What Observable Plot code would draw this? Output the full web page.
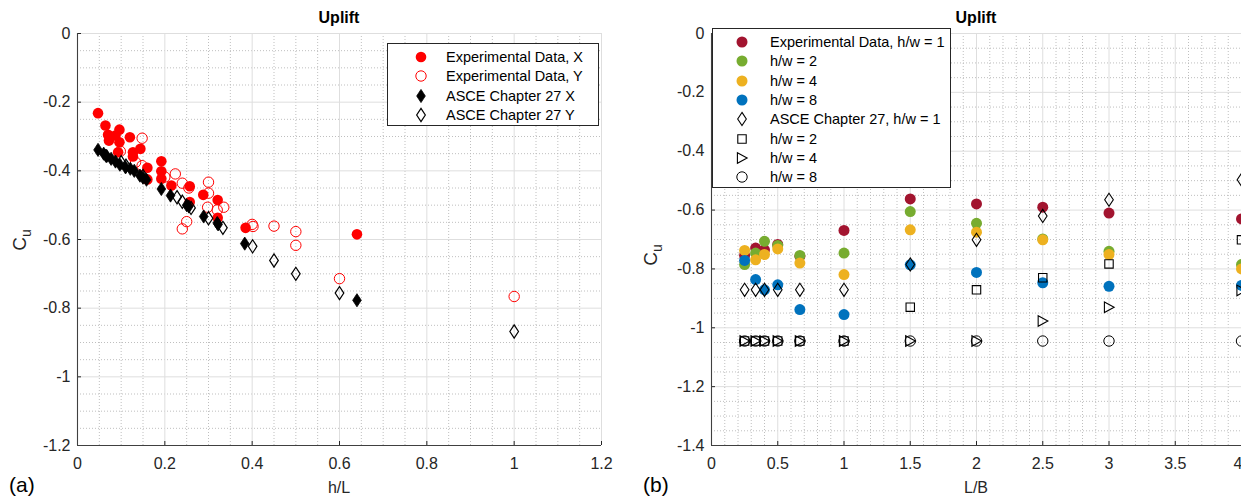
<!DOCTYPE html>
<html><head><meta charset="utf-8">
<script src="https://cdn.jsdelivr.net/npm/d3@7"></script>
<script src="https://cdn.jsdelivr.net/npm/@observablehq/plot@0.6"></script>
<style>
body{margin:0;background:#fff;font-family:"Liberation Sans",Arial,sans-serif;}
#wrap{position:relative;width:1241px;height:498px;overflow:hidden;background:#fff;}
.panel{position:absolute;top:0;}
.legend{position:absolute;background:#fff;border:1px solid #262626;box-sizing:border-box;font-size:14.5px;color:#000;}
.legend .lab{position:absolute;white-space:nowrap;transform:translateY(-50%);line-height:1;}
.legend svg{position:absolute;overflow:visible;}
</style></head><body><div id="wrap"></div>
<script>
// ---------- Panel (a): Cu vs h/L ----------
const expX_hL = [0.047,0.064,0.070,0.072,0.087,0.096,0.096,0.093,0.120,0.127,0.127,0.144,0.160,0.160,0.192,0.192,0.192,0.215,0.257,0.257,0.288,0.321,0.321,0.385,0.640];
const expX_Cu = [-0.232,-0.268,-0.295,-0.312,-0.297,-0.280,-0.317,-0.346,-0.302,-0.346,-0.358,-0.336,-0.391,-0.425,-0.372,-0.401,-0.423,-0.443,-0.445,-0.491,-0.470,-0.485,-0.537,-0.566,-0.585];
const expY_hL = [0.098,0.133,0.148,0.148,0.200,0.224,0.240,0.255,0.300,0.300,0.298,0.320,0.335,0.250,0.240,0.400,0.402,0.450,0.500,0.500,0.600,1.000];
const expY_Cu = [-0.343,-0.375,-0.305,-0.385,-0.418,-0.409,-0.436,-0.450,-0.433,-0.465,-0.506,-0.514,-0.506,-0.548,-0.569,-0.556,-0.562,-0.561,-0.577,-0.617,-0.714,-0.766];
const asceX_hL = [0.047,0.060,0.065,0.067,0.077,0.087,0.097,0.110,0.121,0.130,0.143,0.150,0.158,0.192,0.213,0.250,0.255,0.289,0.320,0.322,0.383,0.640];
const asceX_Cu = [-0.339,-0.350,-0.356,-0.357,-0.365,-0.373,-0.382,-0.390,-0.394,-0.400,-0.414,-0.420,-0.426,-0.453,-0.472,-0.500,-0.504,-0.533,-0.552,-0.556,-0.612,-0.777];
const asceY_hL = [0.100,0.111,0.150,0.228,0.240,0.260,0.300,0.333,0.401,0.450,0.500,0.600,1.000];
const asceY_Cu = [-0.375,-0.385,-0.415,-0.477,-0.490,-0.508,-0.538,-0.566,-0.620,-0.661,-0.700,-0.756,-0.868];
const legendA = ["Experimental Data, X","Experimental Data, Y","ASCE Chapter 27 X","ASCE Chapter 27 Y"];
const ticksA_x = [0,0.2,0.4,0.6,0.8,1,1.2];
const ticksA_y = [0,-0.2,-0.4,-0.6,-0.8,-1,-1.2];

// ---------- Panel (b): Cu vs L/B ----------
const LB = [0.25,0.333,0.4,0.5,0.667,1,1.5,2,2.5,3,4];
const exp_hw1 = [-0.754,-0.729,-0.735,-0.717,-0.757,-0.669,-0.562,-0.579,-0.590,-0.610,-0.630];
const exp_hw2 = [-0.785,-0.746,-0.706,-0.720,-0.754,-0.746,-0.605,-0.645,-0.698,-0.740,-0.785];
const exp_hw4 = [-0.737,-0.769,-0.751,-0.732,-0.780,-0.819,-0.667,-0.675,-0.701,-0.751,-0.800];
const exp_hw8 = [-0.771,-0.836,-0.871,-0.854,-0.938,-0.955,-0.786,-0.812,-0.847,-0.859,-0.856];
const asce_hw1 = [-0.871,-0.871,-0.871,-0.871,-0.871,-0.871,-0.785,-0.701,-0.620,-0.565,-0.497];
const asce_hw2 = [-1.045,-1.045,-1.045,-1.045,-1.045,-1.045,-0.930,-0.871,-0.830,-0.783,-0.701];
const asce_hw4 = [-1.045,-1.045,-1.045,-1.045,-1.045,-1.045,-1.045,-1.045,-0.977,-0.930,-0.873];
const asce_hw8 = [-1.045,-1.045,-1.045,-1.045,-1.045,-1.045,-1.045,-1.045,-1.045,-1.045,-1.045];
const legendB = ["Experimental Data, h/w = 1","h/w = 2","h/w = 4","h/w = 8","ASCE Chapter 27, h/w = 1","h/w = 2","h/w = 4","h/w = 8"];
const ticksB_x = [0,0.5,1,1.5,2,2.5,3,3.5,4];
const ticksB_y = [0,-0.2,-0.4,-0.6,-0.8,-1,-1.2,-1.4];

// ---------- symbols ----------
const diamond = {draw(c,s){const r=Math.sqrt(s/Math.PI),w=r*0.8,h=r*1.22;c.moveTo(0,-h);c.lineTo(w,0);c.lineTo(0,h);c.lineTo(-w,0);c.closePath();}};
const square = {draw(c,s){const r=Math.sqrt(s/Math.PI),a=r*0.78;c.moveTo(-a,-a);c.lineTo(a,-a);c.lineTo(a,a);c.lineTo(-a,a);c.closePath();}};
const triRight = {draw(c,s){const r=Math.sqrt(s/Math.PI);c.moveTo(-r*0.85,-r*0.98);c.lineTo(r*0.95,0);c.lineTo(-r*0.85,r*0.98);c.closePath();}};
const circle = d3.symbolCircle;

const pts = (xs, ys) => xs.map((x,i)=>({x, y: ys[i]}));
const fmt = d => String(+(+d).toFixed(2));
const TXT = "#262626";
const FONT = "Liberation Sans, Arial, sans-serif";
const W_H = 498, MT = 33, MB = 53, PH = W_H - MT - MB;

function frameMarks(xDom, yDom, xMaj, yMaj, xMinStep, yMinStep, PW){
  const near = (v, arr) => arr.some(a => Math.abs(a - v) < 1e-6);
  const xMin = d3.range(xDom[0], xDom[1] + 1e-9, xMinStep).filter(v => !near(v, xMaj));
  const yMin = d3.range(yDom[0], yDom[1] + 1e-9, yMinStep).filter(v => !near(v, yMaj));
  return [
    Plot.ruleX(xMin, {x: d=>d, stroke:"#b8b8b8", strokeDasharray:"1,2", strokeWidth:0.9}),
    Plot.ruleY(yMin, {y: d=>d, stroke:"#b8b8b8", strokeDasharray:"1,2", strokeWidth:0.9}),
    Plot.ruleX(xMaj, {x: d=>d, stroke:"#dedede"}),
    Plot.ruleY(yMaj, {y: d=>d, stroke:"#dedede"}),
    Plot.axisX({ticks: xMaj, tickSize: 0, tickPadding: 12, tickFormat: fmt, label: null, fontSize: 16, fill: TXT}),
    Plot.axisY({ticks: yMaj, tickSize: 0, tickPadding: 7, tickFormat: fmt, label: null, fontSize: 16, fill: TXT}),
    Plot.tickX(xMaj, {x: d=>d, insetTop: PH - 4, stroke: TXT}),
    Plot.tickY(yMaj, {y: d=>d, insetRight: PW - 4, stroke: TXT}),
    Plot.ruleX([xDom[0]], {stroke:"#404040", strokeWidth:1.1}),
    Plot.ruleY([yDom[0]], {stroke:"#404040", strokeWidth:1.1})
  ];
}

const wrap = document.getElementById("wrap");

// ----- Panel (a) -----
const WA = 640, MLA = 77, MRA = 39;
const plotA = Plot.plot({
  width: WA, height: W_H, marginLeft: MLA, marginRight: MRA, marginTop: MT, marginBottom: MB,
  style: {fontFamily: FONT, fontSize: "16px", color: TXT, background: "transparent", overflow: "visible"},
  x: {domain: [0, 1.2]}, y: {domain: [-1.2, 0]},
  marks: [
    ...frameMarks([0,1.2], [-1.2,0], ticksA_x, ticksA_y, 0.05, 0.05, WA - MLA - MRA),
    Plot.dot(pts(expX_hL, expX_Cu), {x:"x", y:"y", r:5.3, fill:"#ff0000"}),
    Plot.dot(pts(expY_hL, expY_Cu), {x:"x", y:"y", r:5.2, fill:"none", stroke:"#ff0000", strokeWidth:1}),
    Plot.dot(pts(asceX_hL, asceX_Cu), {x:"x", y:"y", r:5.4, symbol: diamond, fill:"#000", stroke:"#000", strokeWidth:0.8}),
    Plot.dot(pts(asceY_hL, asceY_Cu), {x:"x", y:"y", r:5.4, symbol: diamond, fill:"none", stroke:"#000", strokeWidth:1.2})
  ]
});
plotA.classList.add("panel"); plotA.style.left = "0px";
wrap.appendChild(plotA);

// ----- Panel (b) -----
const WB = 601, MLB = 71, MRB = 0;
const colB = ["#a2142f","#77ac30","#edb120","#0072bd"];
const plotB = Plot.plot({
  width: WB, height: W_H, marginLeft: MLB, marginRight: MRB, marginTop: MT, marginBottom: MB,
  style: {fontFamily: FONT, fontSize: "16px", color: TXT, background: "transparent", overflow: "visible"},
  x: {domain: [0, 4]}, y: {domain: [-1.4, 0]},
  marks: [
    ...frameMarks([0,4], [-1.4,0], ticksB_x, ticksB_y, 0.1, 0.05, WB - MLB - MRB),
    Plot.dot(pts(LB, exp_hw1), {x:"x", y:"y", r:5.5, fill: colB[0]}),
    Plot.dot(pts(LB, exp_hw2), {x:"x", y:"y", r:5.5, fill: colB[1]}),
    Plot.dot(pts(LB, exp_hw4), {x:"x", y:"y", r:5.5, fill: colB[2]}),
    Plot.dot(pts(LB, exp_hw8), {x:"x", y:"y", r:5.5, fill: colB[3]}),
    Plot.dot(pts(LB, asce_hw1), {x:"x", y:"y", r:5.4, symbol: diamond, fill:"none", stroke:"#000", strokeWidth:1.1}),
    Plot.dot(pts(LB, asce_hw2), {x:"x", y:"y", r:5.4, symbol: square, fill:"none", stroke:"#000", strokeWidth:1.1}),
    Plot.dot(pts(LB, asce_hw4), {x:"x", y:"y", r:5.4, symbol: triRight, fill:"none", stroke:"#000", strokeWidth:1.1}),
    Plot.dot(pts(LB, asce_hw8), {x:"x", y:"y", r:5.2, fill:"none", stroke:"#000", strokeWidth:1})
  ]
});
plotB.classList.add("panel"); plotB.style.left = "640px";
wrap.appendChild(plotB);
// keep the last (edge) tick label inside the window
d3.select(plotB).selectAll("text").filter(function(){ return this.textContent === "4"; })
  .attr("text-anchor", "end").attr("dx", 1);

// ----- labels -----
function labels(svg, cx, titleY, xLab, xLabY, yLabX, yLabY, tag, tagX){
  const s = d3.select(svg);
  s.append("text").attr("x", cx).attr("y", titleY).attr("text-anchor","middle")
    .attr("font-weight","bold").attr("font-size",16).attr("fill","#000").attr("font-family",FONT).text("Uplift");
  s.append("text").attr("x", cx).attr("y", xLabY).attr("text-anchor","middle")
    .attr("font-size",16).attr("fill",TXT).attr("font-family",FONT).text(xLab);
  const t = s.append("text").attr("transform",`translate(${yLabX},${yLabY}) rotate(-90)`)
    .attr("text-anchor","middle").attr("font-size",19).attr("fill",TXT).attr("font-family",FONT);
  t.append("tspan").text("C");
  t.append("tspan").attr("dy",5).attr("font-size",14).text("u");
  s.append("text").attr("x", tagX).attr("y", 492).attr("text-anchor","start").attr("font-size",21).attr("fill","#000")
    .attr("font-family",FONT).text(tag);
}
labels(plotA, 339, 23, "h/L", 493, 26, 240, "(a)", 9);
labels(plotB, 336, 23, "L/B", 493, 17, 255, "(b)", 3);

// ----- legends -----
function legend(box, rows, textX, markX){
  const div = document.createElement("div");
  div.className = "legend";
  Object.assign(div.style, {left: box.left+"px", top: box.top+"px", width: box.width+"px", height: box.height+"px"});
  rows.forEach((r, i) => {
    const cy = box.row0 + i * box.step;
    const sv = d3.create("svg").attr("width",16).attr("height",16)
      .style("left", (markX-8)+"px").style("top", (cy-8)+"px");
    const p = d3.path(); r.sym.draw(p, r.size);
    sv.append("path").attr("transform","translate(8,8)").attr("d", p.toString())
      .attr("fill", r.fill).attr("stroke", r.stroke).attr("stroke-width", r.sw);
    div.appendChild(sv.node());
    const lab = document.createElement("span");
    lab.className = "lab"; lab.textContent = r.label;
    lab.style.left = textX + "px"; lab.style.top = cy + "px";
    div.appendChild(lab);
  });
  wrap.appendChild(div);
}
const S = r => Math.PI * r * r;
legend({left:387, top:43, width:212, height:83, row0:13, step:19.4}, [
  {label: legendA[0], sym: circle, size: S(5.3), fill:"#ff0000", stroke:"none", sw:0},
  {label: legendA[1], sym: circle, size: S(5.2), fill:"none", stroke:"#ff0000", sw:1},
  {label: legendA[2], sym: diamond, size: S(5.4), fill:"#000", stroke:"#000", sw:0.8},
  {label: legendA[3], sym: diamond, size: S(5.4), fill:"none", stroke:"#000", sw:1.2}
], 58, 33);
legend({left:712, top:28, width:239, height:160, row0:13, step:19.3}, [
  {label: legendB[0], sym: circle, size: S(5.5), fill: colB[0], stroke:"none", sw:0},
  {label: legendB[1], sym: circle, size: S(5.5), fill: colB[1], stroke:"none", sw:0},
  {label: legendB[2], sym: circle, size: S(5.5), fill: colB[2], stroke:"none", sw:0},
  {label: legendB[3], sym: circle, size: S(5.5), fill: colB[3], stroke:"none", sw:0},
  {label: legendB[4], sym: diamond, size: S(5.4), fill:"none", stroke:"#000", sw:1.1},
  {label: legendB[5], sym: square, size: S(5.4), fill:"none", stroke:"#000", sw:1.1},
  {label: legendB[6], sym: triRight, size: S(5.4), fill:"none", stroke:"#000", sw:1.1},
  {label: legendB[7], sym: circle, size: S(5.2), fill:"none", stroke:"#000", sw:1}
], 57, 29);
</script>
</body></html>
